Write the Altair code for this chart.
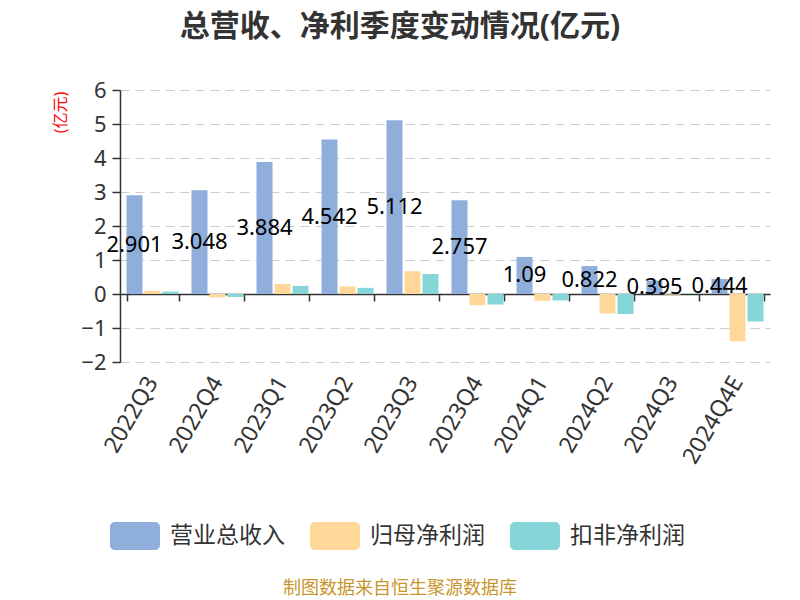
import altair as alt
import pandas as pd

quarters = ["2022Q3", "2022Q4", "2023Q1", "2023Q2", "2023Q3",
            "2023Q4", "2024Q1", "2024Q2", "2024Q3", "2024Q4E"]
series_names = ["营业总收入", "归母净利润", "扣非净利润"]
revenue = [2.901, 3.048, 3.884, 4.542, 5.112, 2.757, 1.09, 0.822, 0.395, 0.444]
net_profit = [0.10, -0.10, 0.30, 0.22, 0.67, -0.33, -0.20, -0.57, -0.02, -1.39]
deducted_profit = [0.07, -0.09, 0.24, 0.18, 0.59, -0.31, -0.19, -0.59, 0.02, -0.81]
colors = ["#8FAEDB", "#FFD899", "#86D5D8"]
y_ticks = [-2, -1, 0, 1, 2, 3, 4, 5, 6]

rows = []
for i, q in enumerate(quarters):
    for name, vals in zip(series_names, [revenue, net_profit, deducted_profit]):
        rows.append({"quarter": q, "series": name, "value": vals[i]})
df = pd.DataFrame(rows)

FONT = "'Noto Sans', 'Noto Sans CJK SC', sans-serif"
W, H = 650, 272

x_scale = alt.Scale(domain=quarters, paddingInner=0.2, paddingOuter=0.1)
y_scale = alt.Scale(domain=[-2, 6], nice=False)
off_scale = alt.Scale(domain=series_names, paddingInner=0.111, paddingOuter=0)

rect_path = ("M-0.8,-0.56 H0.8 A0.2,0.2 0 0 1 1,-0.36 V0.36 A0.2,0.2 0 0 1 0.8,0.56 "
             "H-0.8 A0.2,0.2 0 0 1 -1,0.36 V-0.36 A0.2,0.2 0 0 1 -0.8,-0.56 Z")

y_axis = alt.Axis(title="(亿元)", values=y_ticks, grid=True,
                  gridColor="#cccccc", gridDash=[9, 6], gridWidth=1.2,
                  domain=True, domainColor="#333", domainWidth=1.5,
                  ticks=True, tickColor="#333", tickSize=8, tickWidth=1.5,
                  labelFontSize=22, labelColor="#333", labelPadding=6,
                  labelFont=FONT,
                  titleColor="red", titleFontSize=16, titleFontWeight="normal",
                  titleFont=FONT, titleAngle=270, titleX=-60, titleY=22,
                  titleAlign="center", titleBaseline="middle")

bars = alt.Chart(df).mark_bar().encode(
    x=alt.X("quarter:N", scale=x_scale, sort=quarters,
            axis=alt.Axis(title=None, orient="bottom", domain=False, ticks=False,
                          labelAngle=300, labelAlign="right", labelBaseline="middle",
                          labelFontSize=23, labelColor="#333", labelPadding=16,
                          labelFont=FONT)),
    xOffset=alt.XOffset("series:N", scale=off_scale, sort=series_names),
    y=alt.Y("value:Q", scale=y_scale, axis=y_axis),
    color=alt.Color("series:N", sort=series_names,
                    scale=alt.Scale(domain=series_names, range=colors),
                    legend=alt.Legend(title=None, orient="none", direction="horizontal",
                                      legendX=-10, legendY=421,
                                      symbolType=rect_path, symbolSize=2500,
                                      symbolStrokeWidth=0, symbolOpacity=1,
                                      labelFontSize=23, labelColor="#333",
                                      labelFont=FONT, labelOffset=10,
                                      columnPadding=25, padding=0)),
)

zero_axis = alt.Chart(df).mark_tick(opacity=0).encode(
    x=alt.X("quarter:N", scale=x_scale, sort=quarters,
            axis=alt.Axis(title=None, orient="bottom", offset=-68, labels=False,
                          domain=True, domainColor="#333", domainWidth=1.5,
                          ticks=True, tickBand="extent", tickColor="#333",
                          tickSize=7, tickWidth=1.5, grid=False)),
)

labels = alt.Chart(df).transform_filter(
    alt.datum.series == series_names[0]
).transform_calculate(
    half="datum.value / 2"
).mark_text(fontSize=22, color="#000", font=FONT, baseline="middle", align="center").encode(
    x=alt.X("quarter:N", scale=x_scale, sort=quarters, axis=None),
    xOffset=alt.XOffset("series:N", scale=off_scale, sort=series_names),
    y=alt.Y("half:Q", scale=y_scale, axis=y_axis),
    text=alt.Text("value:Q"),
)

source = alt.Chart(pd.DataFrame({"t": ["制图数据来自恒生聚源数据库"]})).mark_text(
    fontSize=18, color="#C8962E", font=FONT, align="center", baseline="middle"
).encode(x=alt.value(280), y=alt.value(499), text="t:N")

chart = alt.layer(bars, zero_axis, labels, source).resolve_axis(
    x="independent"
).properties(
    width=W, height=H,
    title=alt.TitleParams("总营收、净利季度变动情况(亿元)", fontSize=30, fontWeight="bold",
                          color="#333", font=FONT, anchor="middle", frame="group",
                          dx=-45, offset=37),
    autosize=alt.AutoSizeParams(type="none"),
    padding={"left": 112, "top": 82, "right": 22, "bottom": 238},
).configure_view(stroke="transparent")

chart.save("out.html", embed_options={"renderer": "svg", "actions": False})
